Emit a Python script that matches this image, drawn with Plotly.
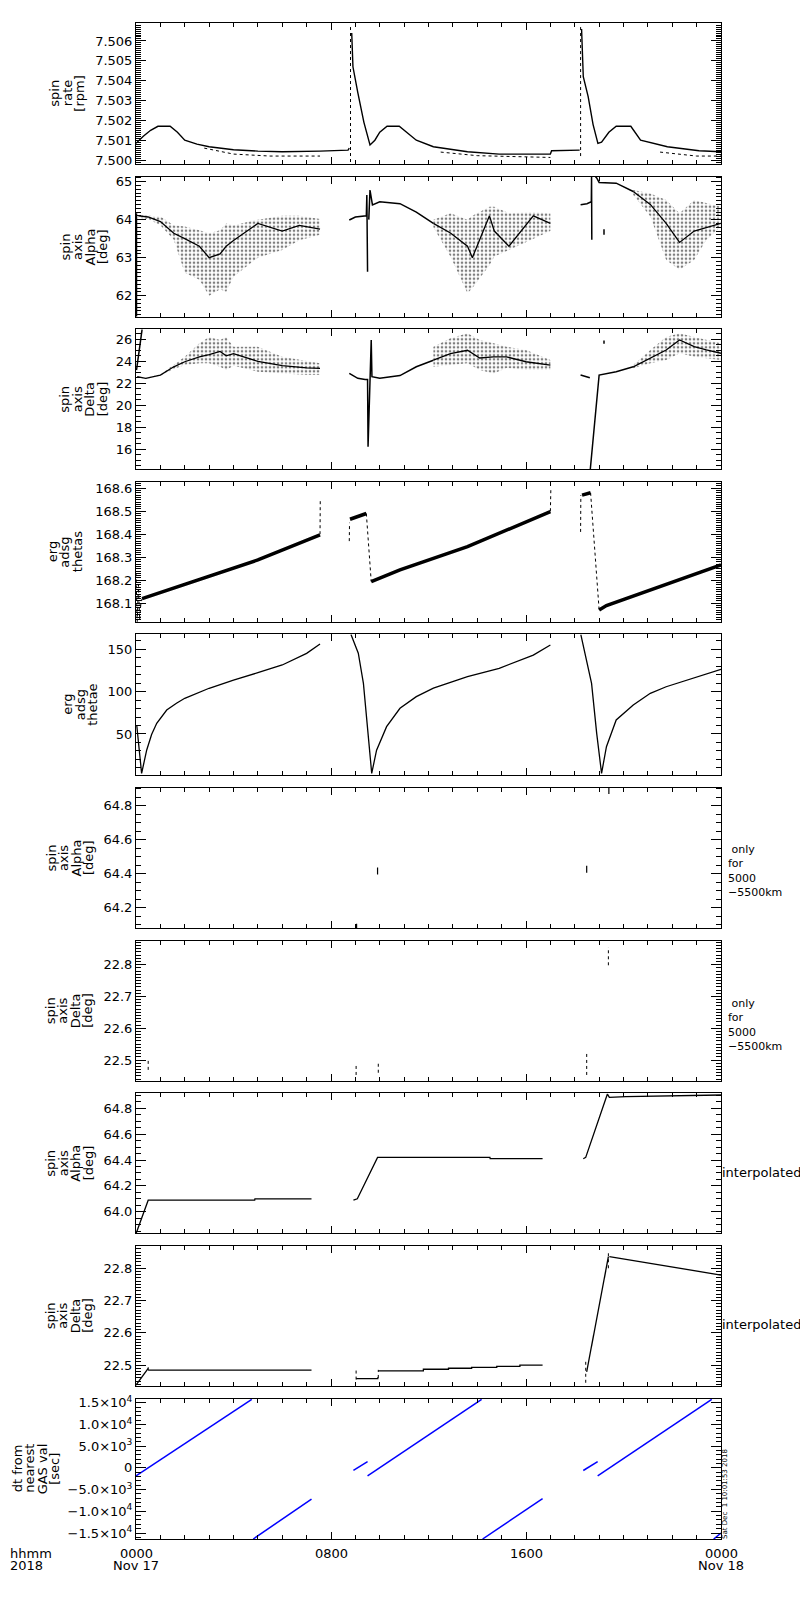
import plotly.graph_objects as go

# time axis: hours after 0000 UT, 17 Nov 2018

# 1: spin rate [rpm]
rate_h = [0.0, 0.3, 0.6, 0.9, 1.4, 1.7, 2.0, 2.5, 3.0, 4.0, 5.0, 6.0, 7.55, 8.7, 8.75, None,
          8.85, 8.9, 9.1, 9.35, 9.6, 9.8, 10.0, 10.3, 10.8, 11.1, 11.5, 12.2, 13.6, 14.9, 17.0, 17.05, 18.2, None,
          18.28, 18.35, 18.55, 18.75, 18.95, 19.1, 19.4, 19.7, 20.3, 20.7, 21.8, 23.1, 24.0]
rate_v = [7.50084, 7.5012, 7.5015, 7.5017, 7.5017, 7.5014, 7.5010, 7.5008, 7.50067, 7.50052, 7.50045, 7.50042, 7.50045, 7.5005, 7.5006, None,
          7.5064, 7.5047, 7.5034, 7.5019, 7.50076, 7.5010, 7.5014, 7.5017, 7.5017, 7.5014, 7.5010, 7.50067, 7.50042, 7.5003, 7.5003, 7.50047, 7.5005, None,
          7.5066, 7.5042, 7.5032, 7.5018, 7.50084, 7.5009, 7.5014, 7.5017, 7.5017, 7.5010, 7.50067, 7.50047, 7.50042]
rate_lo_h = [2.8, 4.0, 5.5, 7.55, None, 12.5, 14.0, 17.0, None, 21.5, 23.0, 24.0]
rate_lo_v = [7.5006, 7.5003, 7.5002, 7.5002, None, 7.5004, 7.50022, 7.50013, None, 7.5004, 7.5002, 7.5002]
rate_jump_h = [8.8, 8.8, None, 18.24, 18.24]
rate_jump_v = [7.4999, 7.5067, None, 7.5002, 7.5067]

# 2: spin axis alpha [deg]
alpha_line_h = [0.02, 0.02, None, 8.75, 9.0, 9.45, 9.47, 9.5, None, 9.55, 9.6, 9.7, 10.0, 10.83, 11.5, 12.2, None,
                18.24, 18.5, 18.68, 18.69, 18.7, None, 18.85, 18.9, 19.0, 19.7, 20.4, None, 19.2, 19.2]
alpha_line_v = [64.17, 61.45, None, 63.99, 64.07, 64.1, 64.65, 62.63, None, 64.0, 64.78, 64.39, 64.47, 64.42, 64.2, 63.9, None,
                64.39, 64.42, 64.47, 65.13, 63.47, None, 65.13, 65.1, 64.98, 64.96, 64.74, None, 63.75, 63.6]
alpha_band_h = [[0.1, 0.5, 1.0, 1.55, 2.0, 2.6, 3.0, 3.45, 3.7, 4.0, 5.0, 6.0, 6.7, 7.55],
                [12.2, 12.9, 13.6, 13.8, 14.5, 14.7, 15.3, 16.3, 17.0],
                [20.4, 21.1, 21.75, 22.3, 22.9, 23.4, 24.0]]
alpha_band_hi = [[64.12, 64.1, 64.08, 63.85, 63.82, 63.72, 63.64, 63.72, 63.9, 63.85, 64.0, 64.1, 64.1, 64.02],
                 [64.0, 64.17, 64.0, 64.1, 64.34, 64.34, 64.17, 64.2, 64.17],
                 [64.78, 64.69, 64.52, 64.17, 64.52, 64.43, 64.34]]
alpha_band_lo = [[64.05, 64.02, 63.85, 63.47, 62.6, 62.42, 62.0, 62.17, 62.1, 62.5, 63.0, 63.2, 63.46, 63.6],
                 [63.8, 63.03, 62.06, 62.2, 62.8, 63.03, 63.2, 63.5, 63.7],
                 [64.65, 64.08, 62.94, 62.68, 62.94, 63.47, 63.82]]
alpha_core = [[64.1, 64.07, 63.95, 63.64, 63.5, 63.3, 63.0, 63.1, 63.3, 63.45, 63.9, 63.7, 63.85, 63.75],
              [63.9, 63.65, 63.3, 63.0, 64.1, 63.7, 63.3, 64.1, 63.9],
              [64.74, 64.4, 63.9, 63.4, 63.7, 63.8, 63.9]]

# 3: spin axis delta [deg]
delta_line_h = [0.02, 0.25, None, 8.75, 9.1, 9.4, 9.5, 9.52, 9.65, 9.68, 10.0, 10.83, 11.5, 12.2, None,
                18.24, 18.5, 18.62, None, 18.63, 19.0, 19.7, 20.4, None, 19.2, 19.2]
delta_line_v = [23.2, 26.9, None, 22.9, 22.45, 22.35, 22.35, 16.24, 25.94, 22.6, 22.45, 22.7, 23.5, 24.1, None,
                22.75, 22.6, 22.5, None, 14.0, 22.75, 23.05, 23.5, None, 25.9, 25.6]
delta_band_h = [[0.05, 0.4, 1.0, 1.55, 2.0, 2.6, 3.0, 3.45, 3.7, 4.0, 5.0, 6.0, 7.0, 7.55],
                [12.2, 12.9, 13.6, 14.1, 14.67, 15.2, 16.0, 17.0],
                [20.4, 21.1, 21.75, 22.3, 22.9, 23.4, 24.0]]
delta_band_hi = [[22.65, 22.5, 22.8, 23.7, 24.42, 25.64, 26.2, 25.94, 26.2, 25.33, 25.33, 24.42, 24.0, 23.82],
                 [25.33, 26.09, 26.55, 25.94, 25.64, 25.33, 25.03, 24.12],
                 [23.66, 25.03, 26.2, 26.55, 26.2, 25.94, 25.64]]
delta_band_lo = [[22.55, 22.4, 22.7, 23.3, 23.66, 23.82, 23.82, 23.51, 23.2, 23.6, 23.05, 22.9, 22.75, 22.75],
                 [23.51, 23.66, 23.82, 23.2, 22.9, 23.4, 23.2, 23.2],
                 [23.36, 23.82, 24.12, 24.73, 24.42, 24.27, 24.12]]
delta_core = [[22.6, 22.45, 22.75, 23.5, 23.96, 24.4, 24.6, 24.9, 24.5, 24.7, 24.0, 23.6, 23.4, 23.36],
              [24.1, 24.7, 25.0, 24.3, 24.4, 24.4, 23.96, 23.66],
              [23.5, 24.27, 25.03, 25.94, 25.33, 25.03, 24.73]]

# 4: erg adsg thetas
thetas_h = [0.25, 3.0, 5.0, 7.55, None, 8.78, 9.4, 9.45, None, 9.65, 10.83, 13.6, 17.0, None,
            18.3, 18.6, 18.65, None, 19.0, 19.3, 24.0]
thetas_v = [168.12, 168.216, 168.288, 168.397, None, 168.465, 168.488, 168.49, None, 168.194, 168.245, 168.346, 168.498, None,
            168.57, 168.58, 168.58, None, 168.071, 168.09, 168.267]
thetas_thin_h = [0.0, 0.05, 0.1, 0.15, 0.2, 0.25, None, 7.55, 7.56, None, 8.75, 8.76, None, 9.45, 9.65, None,
                 17.0, 17.02, None, 18.24, 18.25, None, 18.65, 19.0]
thetas_thin_v = [168.23, 168.02, 168.18, 168.03, 168.10, 168.12, None, 168.4, 168.55, None, 168.37, 168.45, None, 168.49, 168.194, None,
                 168.5, 168.6, None, 168.41, 168.57, None, 168.58, 168.071]

# 5: erg adsg thetae
thetae_h = [0.03, 0.23, 0.44, 0.64, 0.85, 1.05, 1.26, 1.66, 2.0, 3.0, 4.0, 5.0, 6.0, 7.0, 7.55, None,
            8.82, 9.12, 9.33, 9.53, 9.67, 9.87, 10.28, 10.83, 11.5, 12.2, 13.6, 14.9, 16.3, 17.0, None,
            18.25, 18.49, 18.69, 18.9, 19.1, 19.3, 19.7, 20.4, 21.1, 21.75, 22.4, 23.1, 24.0]
thetae_v = [60.6, 3.7, 31.2, 49.4, 62.6, 70.4, 78.2, 86.1, 92.0, 103.8, 113.5, 122.1, 131.2, 144.9, 155.9, None,
            167.0, 145.0, 109.6, 42.9, 3.7, 31.0, 58.6, 80.2, 94.0, 104.0, 117.4, 127.3, 142.9, 154.7, None,
            167.0, 137.0, 109.6, 50.8, 3.7, 35.0, 66.5, 84.1, 97.9, 105.6, 111.5, 118.2, 126.1]

# 6: spin axis alpha, only for 5000-5500 km
alpha_only_h = [9.05, 9.91, 18.49, 19.4]
alpha_only_v = [64.085, 64.416, 64.426, 64.89]

# 7: spin axis delta, only for 5000-5500 km
delta_only_h = [0.5, 0.5, None, 9.03, 9.03, None, 9.94, 9.94, None, 18.49, 18.49, None, 19.38, 19.38]
delta_only_v = [22.469, 22.506, None, 22.453, 22.49, None, 22.46, 22.49, None, 22.453, 22.52, None, 22.798, 22.855]

# 8: spin axis alpha, interpolated
alpha_int_h = [0.0, 0.5, 4.87, 4.88, 7.2, None, 8.92, 9.08, 9.91, 14.52, 14.53, 16.68, None,
               18.35, 18.45, 19.34, 19.42, 20.1, 21.5, 22.85, 24.0]
alpha_int_v = [63.83, 64.089, 64.089, 64.1, 64.1, None, 64.09, 64.1, 64.42, 64.42, 64.41, 64.41, None,
               64.41, 64.42, 64.91, 64.885, 64.89, 64.895, 64.9, 64.903]

# 9: spin axis delta, interpolated
delta_ramp_h = [0.0, 0.5, None, 18.49, 19.38, None, 19.42, 24.0]
delta_ramp_v = [22.4376, 22.49, None, 22.479, 22.836, None, 22.836, 22.779]
delta_step_h = [0.5, 7.2, None, 9.03, 9.92, None, 9.94, 11.79, 12.82, 13.77, 14.8, 15.75, 16.68]
delta_step_v = [22.484, 22.484, None, 22.458, 22.462, None, 22.482, 22.487, 22.49, 22.493, 22.496, 22.4997, 22.4997]
delta_tick_h = [0.5, 0.5, None, 9.03, 9.03, None, 9.94, 9.94, None, 18.45, 18.45, None, 19.38, 19.38]
delta_tick_v = [22.484, 22.5, None, 22.455, 22.49, None, 22.46, 22.485, None, 22.445, 22.51, None, 22.80, 22.85]

# 10: dt from nearest GAS val [sec]
dt_h = [0.0, 4.75, None, 4.81, 7.2, None, 8.92, 9.5, None, 9.5, 14.18, None, 14.22, 16.68, None,
        18.35, 18.94, None, 18.94, 23.62, None, 23.7, 24.0]
dt_v = [-1825, 15780, None, -16380, -7180, None, -608, 1457, None, -1825, 15780, None, -16380, -7110, None,
        -608, 1457, None, -1825, 15780, None, -16380, -15000]
dt_ticks = [-15000, -10000, -5000, 0, 5000, 10000, 15000]
dt_ticktext = ["−1.5×10<sup>4</sup>", "−1.0×10<sup>4</sup>", "−5.0×10<sup>3</sup>", "0",
               "5.0×10<sup>3</sup>", "1.0×10<sup>4</sup>", "1.5×10<sup>4</sup>"]

x_labels = ["0000", "0800", "1600", "0000"]
x_label_hours = [0, 8, 16, 24]

FONT = "DejaVu Sans"
# panel edges in pixels (top, bottom) and plot area
TOPS = [23.3, 176.7, 329.3, 482.0, 634.3, 787.7, 940.5, 1093.3, 1245.7, 1398.7]
BOTS = [164.0, 317.3, 469.3, 622.3, 775.3, 928.3, 1081.0, 1233.3, 1386.0, 1539.0]
PT, PB, PL, PR = 23, 1539, 136, 721


def fy(py):
    return (PB - py) / (PB - PT)


def fd(py):
    return min(1.0, max(0.0, fy(py)))


def fx(px):
    return (px - PL) / (PR - PL)


def sfx(n):
    return "" if n == 1 else str(n)


fig = go.Figure()


def add(h, v, row, color="black", width=1, dash="solid", shape="linear", **kw):
    fig.add_trace(go.Scatter(
        x=h, y=v, mode="lines", xaxis="x" + sfx(row), yaxis="y" + sfx(row),
        line=dict(color=color, width=width, dash=dash, shape=shape),
        hoverinfo="skip", showlegend=False, **kw))


def band(hs, los, his, cores, row):
    for h, lo, hi, core in zip(hs, los, his, cores):
        fig.add_trace(go.Scatter(
            x=h, y=lo, mode="lines", line=dict(width=0), xaxis="x" + sfx(row), yaxis="y" + sfx(row),
            hoverinfo="skip", showlegend=False))
        fig.add_trace(go.Scatter(
            x=h, y=hi, mode="lines", line=dict(width=0), xaxis="x" + sfx(row), yaxis="y" + sfx(row),
            fill="tonexty", fillcolor="rgba(0,0,0,0)",
            fillpattern=dict(shape=".", fgcolor="black", bgcolor="rgba(0,0,0,0)", size=4, solidity=0.35),
            hoverinfo="skip", showlegend=False))
        add(h, core, row, width=1.3)


add(rate_h, rate_v, 1, width=1.4)
add(rate_lo_h, rate_lo_v, 1, width=1, dash="dot")
add(rate_jump_h, rate_jump_v, 1, width=1, dash="dot")

band(alpha_band_h, alpha_band_lo, alpha_band_hi, alpha_core, 2)
add(alpha_line_h, alpha_line_v, 2, width=1.5)

band(delta_band_h, delta_band_lo, delta_band_hi, delta_core, 3)
add(delta_line_h, delta_line_v, 3, width=1.5)

add(thetas_h, thetas_v, 4, width=3.5)
add(thetas_thin_h, thetas_thin_v, 4, width=1, dash="dot")

add(thetae_h, thetae_v, 5, width=1.3)

fig.add_trace(go.Scatter(
    x=alpha_only_h, y=alpha_only_v, mode="markers", xaxis="x6", yaxis="y6",
    marker=dict(symbol="line-ns-open", size=5, color="black", line=dict(color="black", width=1.2)),
    hoverinfo="skip", showlegend=False))

add(delta_only_h, delta_only_v, 7, width=1, dash="dot")

add(alpha_int_h, alpha_int_v, 8, width=1.3)

add(delta_ramp_h, delta_ramp_v, 9, width=1.3)
add(delta_step_h, delta_step_v, 9, width=1.3, shape="hv")
add(delta_tick_h, delta_tick_v, 9, width=1, dash="dot")

add(dt_h, dt_v, 10, color="#0000ff", width=1.5)

y_cfg = [
    dict(range=[7.4998, 7.50689], tick0=7.5, dtick=0.001, tickformat=".3f", minor=0.0001),
    dict(range=[61.43, 65.13], tick0=0, dtick=1, tickformat="d", minor=0.1),
    dict(range=[14.18, 26.91], tick0=0, dtick=2, tickformat="d", minor=0.5),
    dict(range=[168.017, 168.627], tick0=168, dtick=0.1, tickformat=".1f", minor=0.01),
    dict(range=[1.4, 167.3], tick0=0, dtick=50, tickformat="d", minor=10),
    dict(range=[64.079, 64.906], tick0=64, dtick=0.2, tickformat=".1f", minor=0.05),
    dict(range=[22.434, 22.876], tick0=22, dtick=0.1, tickformat=".1f", minor=0.01),
    dict(range=[63.833, 64.916], tick0=64, dtick=0.2, tickformat=".1f", minor=0.05),
    dict(range=[22.435, 22.870], tick0=22, dtick=0.1, tickformat=".1f", minor=0.01),
    dict(range=[-16380, 15920], tick0=0, dtick=None, tickformat=None, minor=1000),
]

layout = dict(
    width=800, height=1600, paper_bgcolor="white", plot_bgcolor="white",
    margin=dict(l=PL, r=800 - PR, t=PT, b=1600 - PB, pad=0),
    font=dict(family=FONT, size=13, color="black"), showlegend=False,
)

for i in range(10):
    n = sfx(i + 1)
    c = y_cfg[i]
    layout["xaxis" + n] = dict(
        domain=[0, 1], anchor="y" + n, range=[0, 24], tickmode="linear", tick0=0, dtick=8,
        ticks="inside", ticklen=7, tickwidth=1, tickcolor="black", showticklabels=False,
        minor=dict(tickmode="linear", tick0=0, dtick=1, ticks="inside", ticklen=4, tickcolor="black"),
        showline=True, linecolor="black", linewidth=1, mirror="ticks", showgrid=False, zeroline=False)
    ya = dict(
        domain=[fd(BOTS[i]), fd(TOPS[i])], anchor="x" + n, range=c["range"],
        ticks="inside", ticklen=10, tickwidth=1, tickcolor="black",
        tickfont=dict(family=FONT, size=13, color="black"),
        minor=dict(tickmode="linear", tick0=c["tick0"], dtick=c["minor"], ticks="inside",
                   ticklen=5, tickcolor="black"),
        showline=True, linecolor="black", linewidth=1, mirror="ticks", showgrid=False, zeroline=False)
    if c["dtick"] is None:
        ya.update(tickmode="array", tickvals=dt_ticks, ticktext=dt_ticktext)
    else:
        ya.update(tickmode="linear", tick0=c["tick0"], dtick=c["dtick"], tickformat=c["tickformat"])
    layout["yaxis" + n] = ya

fig.update_layout(**layout)

# rotated multi-line y titles, one annotation per line
titles = [["spin", "rate", "[rpm]"], ["spin", "axis", "Alpha", "[deg]"], ["spin", "axis", "Delta", "[deg]"],
          ["erg", "adsg", "thetas"], ["erg", "adsg", "thetae"], ["spin", "axis", "Alpha", "[deg]"],
          ["spin", "axis", "Delta", "[deg]"], ["spin", "axis", "Alpha", "[deg]"],
          ["spin", "axis", "Delta", "[deg]"], ["dt from", "nearest", "GAS val", "[sec]"]]
last_x = [80, 103, 102, 77, 93, 88, 88, 88, 88, 55]
for i, lines in enumerate(titles):
    yc = fy((TOPS[i] + BOTS[i]) / 2)
    k = len(lines)
    for j, t in enumerate(lines):
        px = last_x[i] - (k - 1 - j) * 12.5
        fig.add_annotation(text=t, xref="paper", yref="paper", x=fx(px), y=yc, textangle=-90,
                           showarrow=False, xanchor="center", yanchor="middle",
                           font=dict(family=FONT, size=13, color="black"))

# right-hand notes
for py in [871.5, 1024.5]:
    fig.add_annotation(text=" only<br>for<br>5000<br>−5500km", xref="paper", yref="paper",
                       x=fx(726), y=fy(py), showarrow=False, align="left",
                       xanchor="left", yanchor="middle", font=dict(family=FONT, size=11, color="black"))
for py in [1172, 1324.5]:
    fig.add_annotation(text="interpolated", xref="paper", yref="paper", x=fx(720), y=fy(py), showarrow=False,
                       xanchor="left", yanchor="middle", font=dict(family=FONT, size=13, color="black"))

# time axis labels
for h, t in zip(x_label_hours, x_labels):
    fig.add_annotation(text=t, xref="x10", yref="paper", x=h, y=fy(1553), showarrow=False,
                       xanchor="center", yanchor="middle", font=dict(family=FONT, size=13, color="black"))
for h, t in [(0, "Nov 17"), (24, "Nov 18")]:
    fig.add_annotation(text=t, xref="x10", yref="paper", x=h, y=fy(1565), showarrow=False,
                       xanchor="center", yanchor="middle", font=dict(family=FONT, size=13, color="black"))
for t, py in [("hhmm", 1553), ("2018", 1565)]:
    fig.add_annotation(text=t, xref="paper", yref="paper", x=fx(8), y=fy(py), showarrow=False,
                       xanchor="left", yanchor="middle", font=dict(family=FONT, size=13, color="black"))

fig.add_annotation(text="Sat Dec  1 10:01:53 2018", xref="paper", yref="paper", x=fx(725), y=fy(1494),
                   textangle=-90, showarrow=False, xanchor="center", yanchor="middle",
                   font=dict(family=FONT, size=7, color="black"))

fig.write_html("out.html", config={"displayModeBar": False},
               post_script="document.body.style.margin='0';")
